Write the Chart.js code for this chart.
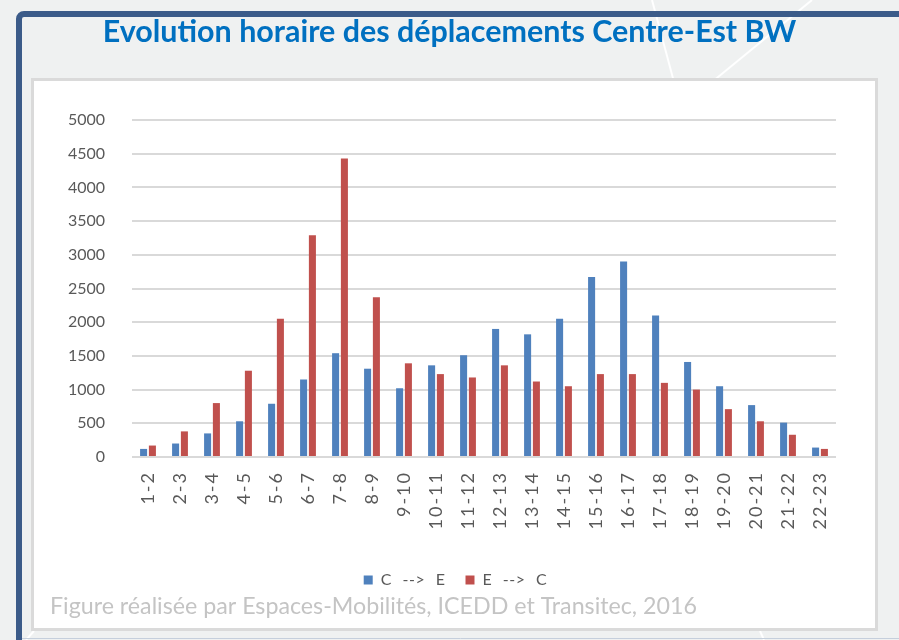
<!DOCTYPE html>
<html>
<head>
<meta charset="utf-8">
<script src="https://cdn.jsdelivr.net/npm/chart.js@4.4.1/dist/chart.umd.min.js"></script>
<style>
html,body{margin:0;padding:0;background:#eff1f1;}
canvas{display:block;}
</style>
</head>
<body>
<canvas id="c" width="899" height="640"></canvas>
<script>
// ---- data ----
const categories = ['1-2','2-3','3-4','4-5','5-6','6-7','7-8','8-9','9-10','10-11','11-12',
  '12-13','13-14','14-15','15-16','16-17','17-18','18-19','19-20','20-21','21-22','22-23'];
const seriesNames = ['C --> E', 'E --> C'];
const cToE = [120, 200, 350, 530, 790, 1150, 1540, 1310, 1020, 1360, 1510,
  1900, 1820, 2050, 2670, 2900, 2100, 1410, 1050, 770, 510, 140];
const eToC = [170, 380, 800, 1280, 2050, 3290, 4430, 2370, 1390, 1230, 1180,
  1360, 1120, 1050, 1230, 1230, 1100, 1000, 710, 530, 330, 120];
const yTickValues = [0, 500, 1000, 1500, 2000, 2500, 3000, 3500, 4000, 4500, 5000];
const titleText = 'Evolution horaire des déplacements Centre-Est BW';
const captionText = 'Figure réalisée par Espaces-Mobilités, ICEDD et Transitec, 2016';

// ---- helpers ----
function fitFontSize(text, weight, family, targetWidth) {
  const c = document.createElement('canvas').getContext('2d');
  c.font = weight + ' 100px ' + family;
  return 100 * targetWidth / c.measureText(text).width;
}
const titleSize = fitFontSize(titleText, 'bold', 'Lato', 694);
const captionSize = fitFontSize(captionText, 'normal', 'Lato', 647);

const framePlugin = {
  id: 'frame',
  beforeDraw(chart) {
    const ctx = chart.ctx;
    ctx.save();
    ctx.fillStyle = '#eff1f1';
    ctx.fillRect(0, 0, chart.width, chart.height);
    // faint decorative lines
    ctx.strokeStyle = 'rgba(255,255,255,0.95)';
    ctx.lineWidth = 2;
    ctx.beginPath();
    ctx.moveTo(652, 0); ctx.lineTo(674, 82);
    ctx.moveTo(812, 0); ctx.lineTo(712, 82);
    ctx.moveTo(760, 631); ctx.lineTo(764, 640);
    ctx.moveTo(26, 640); ctx.lineTo(34, 631);
    ctx.stroke();
    // dark blue frame
    ctx.strokeStyle = '#3b5b89';
    ctx.lineWidth = 6;
    ctx.beginPath();
    ctx.roundRect(19, 14, 920, 680, 5);
    ctx.stroke();
    ctx.strokeStyle = '#c5cfdc';
    ctx.lineWidth = 1;
    ctx.beginPath();
    ctx.moveTo(22, 638.5); ctx.lineTo(899, 638.5);
    ctx.stroke();
    // white chart box
    ctx.fillStyle = '#ffffff';
    ctx.fillRect(32.5, 79.5, 844, 550);
    ctx.strokeStyle = '#dadada';
    ctx.lineWidth = 3;
    ctx.strokeRect(32.5, 79.5, 844, 550);
    ctx.restore();
  }
};

function wrapSpacing(chart, obj, name, letter, word, dx) {
  const orig = obj[name].bind(obj);
  obj[name] = function (...args) {
    const ctx = chart.ctx;
    ctx.save();
    ctx.letterSpacing = letter;
    ctx.wordSpacing = word;
    if (dx) ctx.translate(dx, 0);
    const r = orig(...args);
    ctx.restore();
    return r;
  };
}

const spacingPlugin = {
  id: 'spacing',
  afterInit(chart) {
    if (chart.legend && !chart.legend._sp) {
      wrapSpacing(chart, chart.legend, 'fit', '0.5px', '6px', 0);
      wrapSpacing(chart, chart.legend, 'draw', '0.5px', '6px', 6);
      chart.legend._sp = true;
    }
  },
  beforeLayout(chart) {
    const x = chart.scales.x;
    if (x && !x._sp) {
      wrapSpacing(chart, x, 'drawLabels', '2px', '0px', 0);
      x._sp = true;
    }
  }
};

const tickColor = '#595959';

new Chart(document.getElementById('c'), {
  type: 'bar',
  data: {
    labels: categories,
    datasets: [
      { label: seriesNames[0], data: cToE, backgroundColor: '#4f81bd', borderWidth: 0,
        categoryPercentage: 0.55, barPercentage: 0.8 },
      { label: seriesNames[1], data: eToC, backgroundColor: '#c0504d', borderWidth: 0,
        categoryPercentage: 0.55, barPercentage: 0.8 }
    ]
  },
  options: {
    responsive: false,
    animation: false,
    devicePixelRatio: 1,
    layout: { padding: { left: 50, right: 50, top: 0, bottom: 0 } },
    scales: {
      x: {
        grid: { display: false, drawTicks: false },
        border: { display: false },
        ticks: {
          minRotation: 90, maxRotation: 90, autoSkip: false,
          color: tickColor, padding: 14,
          font: { family: 'Lato', size: 18 }
        },
        afterFit(s) { s.height = 95; }
      },
      y: {
        min: 0, max: 5000,
        grid: { color: '#d9d9d9', lineWidth: 2, drawTicks: false },
        border: { display: false },
        ticks: {
          color: tickColor, padding: 27, font: { family: 'Lato', size: 16 },
          callback: (v) => String(v)
        },
        afterBuildTicks(s) { s.ticks = yTickValues.map(v => ({ value: v })); },
        afterFit(s) { s.width = 82; }
      },
      yPad: {
        type: 'linear', position: 'right', display: true,
        grid: { display: false, drawTicks: false },
        border: { display: false },
        ticks: { display: false },
        afterFit(s) { s.width = 13; }
      }
    },
    plugins: {
      title: {
        display: true,
        text: titleText,
        color: '#0070c0',
        font: { family: 'Lato', weight: 'bold', size: titleSize, lineHeight: '30px' },
        padding: { top: 17, bottom: 73 }
      },
      subtitle: {
        display: true,
        position: 'bottom',
        align: 'start',
        text: captionText,
        color: '#c4c4c4',
        font: { family: 'Lato', size: captionSize, lineHeight: '18px' },
        padding: { top: 0, bottom: 24 }
      },
      legend: {
        position: 'bottom',
        labels: {
          color: tickColor,
          font: { family: 'Lato', size: 16 },
          boxWidth: 9, boxHeight: 9, padding: 20
        }
      },
      tooltip: { enabled: false }
    }
  },
  plugins: [framePlugin, spacingPlugin]
});
</script>
</body>
</html>
